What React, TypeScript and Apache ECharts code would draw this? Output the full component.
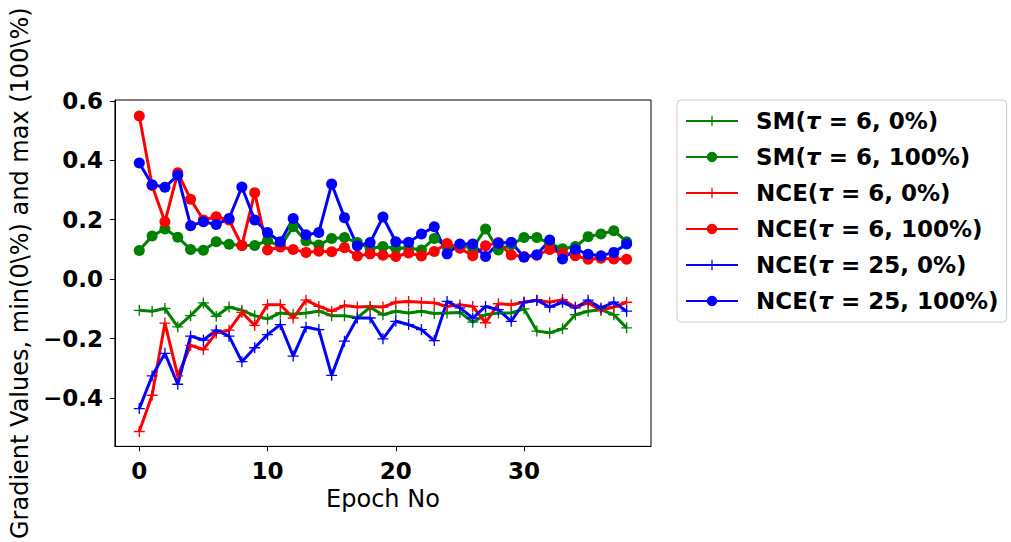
import React, { useEffect, useRef } from "react";
import * as echarts from "echarts";

// Epoch index along the x axis
const epochs = [
  0, 1, 2, 3, 4, 5, 6, 7, 8, 9, 10, 11, 12, 13, 14, 15, 16, 17, 18, 19,
  20, 21, 22, 23, 24, 25, 26, 27, 28, 29, 30, 31, 32, 33, 34, 35, 36, 37, 38,
];

// Minimum gradient values (0%)
const sm6Min = [
  -0.105, -0.108, -0.099, -0.161, -0.123, -0.08, -0.125, -0.094, -0.105, -0.123,
  -0.134, -0.114, -0.118, -0.114, -0.108, -0.123, -0.123, -0.13, -0.095, -0.12,
  -0.108, -0.114, -0.108, -0.116, -0.114, -0.112, -0.145, -0.12, -0.114, -0.114,
  -0.1, -0.175, -0.181, -0.167, -0.12, -0.108, -0.103, -0.12, -0.164,
];
const nce6Min = [
  -0.513, -0.391, -0.148, -0.326, -0.223, -0.237, -0.181, -0.172, -0.112, -0.156,
  -0.086, -0.086, -0.131, -0.071, -0.092, -0.108, -0.089, -0.094, -0.092, -0.094,
  -0.078, -0.075, -0.078, -0.08, -0.092, -0.086, -0.092, -0.147, -0.083, -0.086,
  -0.078, -0.071, -0.078, -0.069, -0.094, -0.08, -0.105, -0.094, -0.078,
];
const nce25Min = [
  -0.436, -0.326, -0.25, -0.354, -0.192, -0.205, -0.172, -0.192, -0.278, -0.231,
  -0.187, -0.153, -0.259, -0.162, -0.17, -0.324, -0.209, -0.131, -0.131, -0.201,
  -0.142, -0.153, -0.17, -0.207, -0.075, -0.097, -0.131, -0.092, -0.103, -0.142,
  -0.078, -0.071, -0.094, -0.078, -0.097, -0.071, -0.097, -0.078, -0.108,
];

// Maximum gradient values (100%)
const sm6Max = [
  0.096, 0.145, 0.169, 0.141, 0.1, 0.097, 0.126, 0.117, 0.113, 0.113,
  0.13, 0.11, 0.176, 0.128, 0.115, 0.137, 0.14, 0.123, 0.104, 0.11,
  0.104, 0.105, 0.098, 0.137, 0.11, 0.112, 0.105, 0.169, 0.098, 0.116,
  0.14, 0.14, 0.12, 0.102, 0.11, 0.143, 0.152, 0.163, 0.126,
];
const nce6Max = [
  0.549, 0.315, 0.193, 0.358, 0.269, 0.199, 0.21, 0.199, 0.113, 0.291,
  0.098, 0.108, 0.1, 0.09, 0.094, 0.092, 0.106, 0.078, 0.085, 0.08,
  0.076, 0.088, 0.078, 0.093, 0.12, 0.104, 0.079, 0.112, 0.123, 0.081,
  0.076, 0.08, 0.1, 0.087, 0.079, 0.067, 0.07, 0.068, 0.067,
];
const nce25Max = [
  0.391, 0.318, 0.309, 0.35, 0.18, 0.193, 0.184, 0.204, 0.31, 0.199,
  0.157, 0.126, 0.204, 0.149, 0.157, 0.32, 0.207, 0.112, 0.123, 0.209,
  0.126, 0.124, 0.152, 0.176, 0.085, 0.118, 0.118, 0.076, 0.121, 0.124,
  0.074, 0.082, 0.132, 0.068, 0.1, 0.084, 0.079, 0.09, 0.118,
];

const xTicks = [0, 10, 20, 30];
const yTicks = [-0.4, -0.2, 0, 0.2, 0.4, 0.6];

const GREEN = "#008000";
const RED = "#ff0000";
const BLUE = "#0000ff";
const FONT = "DejaVu Sans";

// Filled "+" marker
const PLUS =
  "path://M-0.12,-1L0.12,-1L0.12,-0.12L1,-0.12L1,0.12L0.12,0.12L0.12,1L-0.12,1L-0.12,0.12L-1,0.12L-1,-0.12L-0.12,-0.12Z";

const seriesDefs = [
  { name: "SM(τ = 6, 0%)", values: sm6Min, color: GREEN, marker: "plus" },
  { name: "SM(τ = 6, 100%)", values: sm6Max, color: GREEN, marker: "circle" },
  { name: "NCE(τ = 6, 0%)", values: nce6Min, color: RED, marker: "plus" },
  { name: "NCE(τ = 6, 100%)", values: nce6Max, color: RED, marker: "circle" },
  { name: "NCE(τ = 25, 0%)", values: nce25Min, color: BLUE, marker: "plus" },
  { name: "NCE(τ = 25, 100%)", values: nce25Max, color: BLUE, marker: "circle" },
];

const fmtTick = (v: number) => {
  const s = Math.abs(v).toFixed(1);
  return v < -1e-9 ? "\u2212" + s : s;
};

export default function App() {
  const ref = useRef<HTMLDivElement>(null);

  useEffect(() => {
    if (!ref.current) return;
    const chart = echarts.init(ref.current, undefined, { renderer: "svg" });

    const series = seriesDefs.map((d) => ({
      name: d.name,
      type: "line",
      data: epochs.map((e, i) => [e, d.values[i]]),
      symbol: d.marker === "plus" ? PLUS : "circle",
      symbolSize: 11,
      showSymbol: true,
      lineStyle: { color: d.color, width: 3 },
      itemStyle: { color: d.color, borderWidth: 0 },
      emphasis: { disabled: true },
    }));

    chart.setOption({
      animation: false,
      backgroundColor: "#ffffff",
      grid: {
        left: 114,
        top: 100,
        right: 360,
        bottom: 95,
        show: true,
        borderColor: "#000000",
        borderWidth: 1,
        backgroundColor: "transparent",
      },
      xAxis: {
        type: "value",
        min: -1.9,
        max: 39.9,
        name: "Epoch No",
        nameLocation: "middle",
        nameGap: 41,
        nameTextStyle: { fontFamily: FONT, fontSize: 24, color: "#000" },
        axisLine: { show: true, onZero: false, lineStyle: { color: "#000", width: 1 } },
        axisTick: {
          show: true,
          inside: false,
          length: 5,
          customValues: xTicks,
          lineStyle: { color: "#000", width: 1 },
        },
        axisLabel: {
          customValues: xTicks,
          formatter: (v: number) => String(v),
          fontFamily: FONT,
          fontWeight: "bold",
          fontSize: 23,
          color: "#000",
          margin: 13,
        },
        splitLine: { show: false },
      },
      yAxis: {
        type: "value",
        min: -0.563,
        max: 0.603,
        name: "Gradient Values, min(0\\%) and max (100\\%)",
        nameLocation: "middle",
        nameGap: 80,
        nameTextStyle: { fontFamily: FONT, fontSize: 24, color: "#000" },
        axisLine: { show: true, onZero: false, lineStyle: { color: "#000", width: 1 } },
        axisTick: {
          show: true,
          inside: false,
          length: 5,
          customValues: yTicks,
          lineStyle: { color: "#000", width: 1 },
        },
        axisLabel: {
          customValues: yTicks,
          formatter: (v: number) => fmtTick(v),
          fontFamily: FONT,
          fontWeight: "bold",
          fontSize: 23,
          color: "#000",
          margin: 12,
        },
        splitLine: { show: false },
      },
      legend: {
        orient: "vertical",
        left: 677,
        top: 100,
        padding: [8, 8, 8, 8],
        itemWidth: 52,
        itemHeight: 13,
        itemGap: 10,
        borderColor: "#cccccc",
        borderWidth: 1,
        borderRadius: 4,
        backgroundColor: "#ffffff",
        data: seriesDefs.map((d) => d.name),
        formatter: (name: string) => name.replace("τ", "{t|τ}"),
        textStyle: {
          fontFamily: FONT,
          fontWeight: "bold",
          fontSize: 23,
          lineHeight: 26,
          color: "#000",
          padding: [0, 0, 0, 13],
          rich: {
            t: {
              fontFamily: FONT,
              fontWeight: "bold",
              fontStyle: "italic",
              fontSize: 23,
              lineHeight: 26,
              color: "#000",
            },
          },
        },
      },
      series,
    });

    return () => chart.dispose();
  }, []);

  return (
    <div
      ref={ref}
      style={{ position: "fixed", left: 0, top: 0, width: 1011, height: 542 }}
    />
  );
}
